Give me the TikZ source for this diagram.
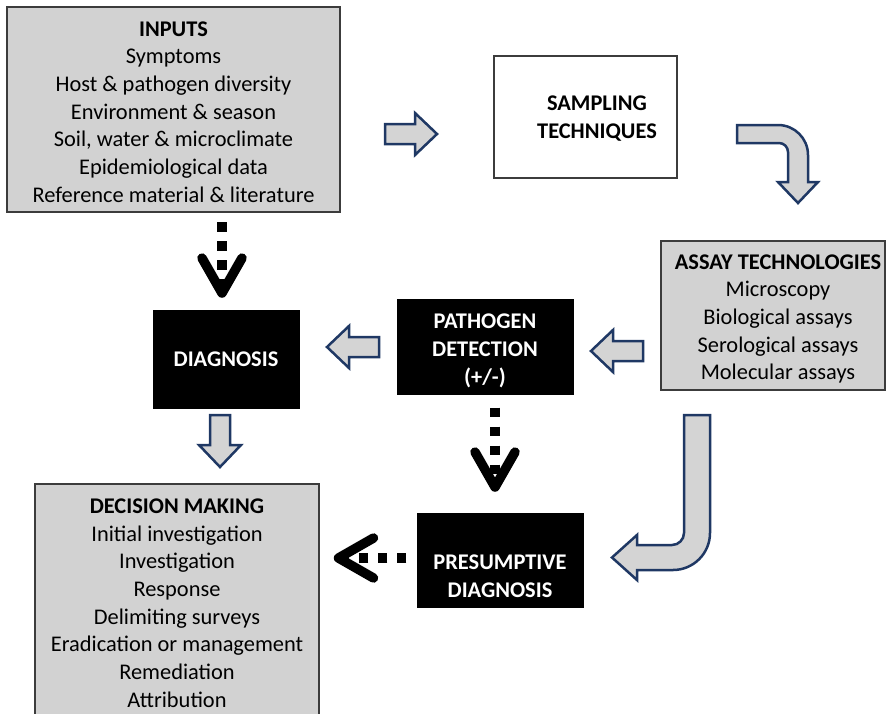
\documentclass[tikz,border=0pt]{standalone}
\usepackage{fontspec}
\setmainfont{Carlito}
\usetikzlibrary{arrows.meta}
\definecolor{boxgray}{RGB}{210,210,210}
\definecolor{boxedge}{RGB}{60,60,60}
\definecolor{arrowfill}{RGB}{212,212,212}
\definecolor{arrownavy}{RGB}{31,56,100}

\begin{document}
\begin{tikzpicture}[x=1pt,y=-1pt,
  panel/.style={draw=boxedge, line width=1.5pt, fill=boxgray, inner sep=0pt},
  openpanel/.style={panel, fill=white},
  darkpanel/.style={fill=black, draw=black, inner sep=0pt},
  label/.style={align=center, inner sep=0pt, font=\fontsize{22.4}{27.7}\selectfont},
  darklabel/.style={label, text=white, font=\fontsize{22.4}{28}\selectfont\bfseries},
  blockarrow/.style={fill=arrowfill, draw=arrownavy, line width=2.5pt, line join=miter},
  dotarrow/.style={line width=9.5pt, dash pattern=on 9.5pt off 9.5pt,
    -{Straight Barb[length=35pt,width=40pt,line width=9.5pt,round]}},
  pics/rightblock/.style={code={
    \draw[blockarrow] (-26,-10) -- (4,-10) -- (4,-21) -- (26,0) -- (4,21) -- (4,10) -- (-26,10) -- cycle;}}
]
\useasboundingbox (0,0) rectangle (886,713);

% ---- boxes ----
\node[panel, minimum width=333pt, minimum height=205pt] (inputs) at (173.5,109.5) {};
\node[openpanel, minimum width=183pt, minimum height=122pt] (sampling) at (585.5,117) {};
\node[panel, minimum width=224pt, minimum height=149pt] (assay) at (773,315.5) {};
\node[darkpanel, minimum width=146pt, minimum height=98pt] (diag) at (226,359) {};
\node[darkpanel, minimum width=176pt, minimum height=95pt] (detect) at (485,346.5) {};
\node[darkpanel, minimum width=166pt, minimum height=94pt] (presume) at (500,560) {};
\node[panel, minimum width=284pt, minimum height=260pt] (decide) at (177,614) {};

% ---- box texts ----
\node[label] (inputs-text) at (173.5,112) {\textbf{INPUTS}\\Symptoms\\Host \& pathogen diversity\\Environment \& season\\Soil, water \& microclimate\\Epidemiological data\\Reference material \& literature};
\node[label, font=\fontsize{22.4}{28}\selectfont\bfseries] (sampling-text) at (597,119) {SAMPLING\\TECHNIQUES};
\node[label] (assay-text) at (778,319) {\textbf{ASSAY TECHNOLOGIES}\\Microscopy\\Biological assays\\Serological assays\\Molecular assays};
\node[darklabel] (diag-text) at (226,359) {DIAGNOSIS};
\node[darklabel] (detect-text) at (485,351) {PATHOGEN\\DETECTION\\(+/-)};
\node[darklabel] (presume-text) at (500,576) {PRESUMPTIVE\\DIAGNOSIS};
\node[label] (decide-text) at (177,603) {\textbf{DECISION MAKING}\\Initial investigation\\Investigation\\Response\\Delimiting surveys\\Eradication or management\\Remediation\\Attribution};

% ---- straight block arrows ----
\pic at (411,134) {rightblock};
\pic[rotate=180] at (353,347) {rightblock};
\pic[rotate=180] at (617,351) {rightblock};
\pic[rotate=-90] at (220,441) {rightblock};

% ---- bent block arrow: sampling to assay ----
\draw[blockarrow] (737,125) -- (778,125)
  .. controls (794.6,125) and (808,138.4) .. (808,155)
  -- (808,182) -- (818,182) -- (798,203) -- (778,182) -- (788,182) -- (788,152)
  .. controls (788,147) and (784,143) .. (779,143)
  -- (737,143) -- cycle;

% ---- bent block arrow: assay to presumptive diagnosis ----
\draw[blockarrow] (684,415) -- (710,415) -- (710,533)
  .. controls (710,553.4) and (693.4,570) .. (673,570)
  -- (637,570) -- (637,580) -- (612,557.5) -- (637,535) -- (637,545) -- (672,545)
  .. controls (678.6,545) and (684,539.6) .. (684,533) -- cycle;

% ---- dotted arrows ----
\coordinate (diag-in) at ([xshift=-4pt]diag.north);
\coordinate (presume-in) at ([xshift=-5pt]presume.north);
\coordinate (presume-out) at ([yshift=2pt]presume.west);
\draw[dotarrow, shorten <=9.5pt, shorten >=12pt] (diag-in |- inputs.south) -- (diag-in);
\draw[dotarrow, shorten <=13.5pt, shorten >=21pt] (presume-in |- detect.south) -- (presume-in);
\draw[dotarrow, shorten <=10.5pt, shorten >=14pt] (presume-out) -- (presume-out -| decide.east);
\end{tikzpicture}
\end{document}
